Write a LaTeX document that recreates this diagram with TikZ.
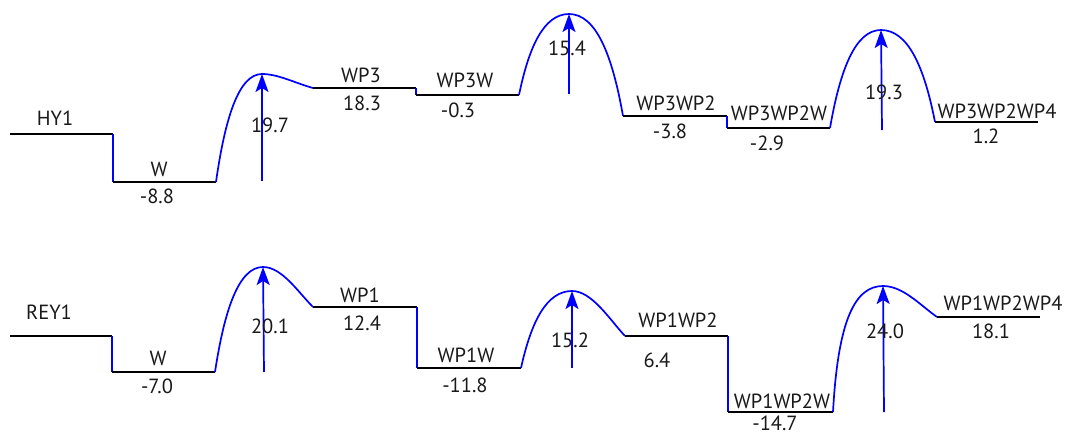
\documentclass[tikz,border=0pt]{standalone}
\usepackage{fontspec}
\setmainfont{PT Sans}
\usetikzlibrary{arrows.meta}
\definecolor{pathblue}{RGB}{0,0,255}
\tikzset{
  level/.style={draw=black, line width=1.7pt},
  link/.style={draw=pathblue, line width=1.7pt},
  barrier/.style={draw=pathblue, line width=1.7pt, -{Stealth[length=18pt,width=13pt,inset=4pt]}},
  lbl/.style={anchor=base, inner sep=0pt, font=\fontsize{20.5}{22}\selectfont, text=black!90}
}
\begin{document}
\begin{tikzpicture}[x=1pt,y=-1pt]
\useasboundingbox (0,0) rectangle (1067,434);

% ---------------- upper pathway (HY1) ----------------
\coordinate (hyA) at (10,134);   \coordinate (hyB) at (113,134);
\coordinate (wA)  at (113,182);  \coordinate (wB)  at (216,182);
\coordinate (ts1) at (262,74);   \coordinate (ts1b) at (262,181);
\coordinate (p3A) at (313,88);   \coordinate (p3B) at (416,88);
\coordinate (p3wA) at (416,95);  \coordinate (p3wB) at (519,95);
\coordinate (ts2) at (569,14);   \coordinate (ts2b) at (569,94);
\coordinate (p32A) at (623,116); \coordinate (p32B) at (727,116);
\coordinate (p32wA) at (727,128);\coordinate (p32wB) at (830,128);
\coordinate (ts3) at (881,30);   \coordinate (ts3b) at (882,130);
\coordinate (p324A) at (935,122);\coordinate (p324B) at (1038,122);

\draw[level] (hyA) -- (hyB);
\draw[link] (hyB) -- (wA);
\draw[level] (wA) -- (wB);
\draw[link] (wB) .. controls (225.2,117.2) and (239,74) .. (ts1)
                 .. controls (278,74) and (295,83) .. (p3A);
\draw[level] (p3A) -- (p3B);
\draw[link] (p3B) -- (p3wA);
\draw[level] (p3wA) -- (p3wB);
\draw[link] (p3wB) .. controls (529,46.4) and (544,14) .. (ts2)
                   .. controls (596,14) and (612.2,54.8) .. (p32A);
\draw[level] (p32A) -- (p32B);
\draw[link] (p32B) -- (p32wA);
\draw[level] (p32wA) -- (p32wB);
\draw[link] (p32wB) .. controls (840.2,69.2) and (855.5,30) .. (ts3)
                    .. controls (908,30) and (924.2,66.8) .. (p324A);
\draw[level] (p324A) -- (p324B);

\draw[barrier] (ts1b) -- (ts1);
\draw[barrier] (ts2b) -- (ts2);
\draw[barrier] (ts3b) -- (ts3);

\node[lbl] (nHY1)  at (55,125)  {HY1};
\node[lbl] (nW1)   at (159,176) {W};
\node[lbl] (eW1)   at (157,203) {-8.8};
\node[lbl] (eTS1)  at (270,132) {19.7};
\node[lbl] (nWP3)  at (361,82)  {WP3};
\node[lbl] (eWP3)  at (362,110) {18.3};
\node[lbl] (nWP3W) at (465,87)  {WP3W};
\node[lbl] (eWP3W) at (458,117) {-0.3};
\node[lbl] (eTS2)  at (567,55)  {15.4};
\node[lbl] (nWP32) at (676,110) {WP3WP2};
\node[lbl] (eWP32) at (670,138) {-3.8};
\node[lbl] (nWP32W) at (779,120) {WP3WP2W};
\node[lbl] (eWP32W) at (767,150) {-2.9};
\node[lbl] (eTS3)  at (884,99)  {19.3};
\node[lbl] (nWP324) at (997,118) {WP3WP2WP4};
\node[lbl] (eWP324) at (986,143) {1.2};

% ---------------- lower pathway (REY1) ----------------
\coordinate (reA) at (10,336);   \coordinate (reB) at (112,336);
\coordinate (w2A) at (112,372);  \coordinate (w2B) at (215,372);
\coordinate (ts4) at (263,267);  \coordinate (ts4b) at (264,372);
\coordinate (p1A) at (313,307);  \coordinate (p1B) at (417,307);
\coordinate (p1wA) at (417,368); \coordinate (p1wB) at (521,368);
\coordinate (ts5) at (572,291);  \coordinate (ts5b) at (572,368);
\coordinate (p12A) at (625,336); \coordinate (p12B) at (728,336);
\coordinate (p12wA) at (728,412);\coordinate (p12wB) at (833,412);
\coordinate (ts6) at (883,286);  \coordinate (ts6b) at (884,412);
\coordinate (p124A) at (937,317);\coordinate (p124B) at (1040,317);

\draw[level] (reA) -- (reB);
\draw[link] (reB) -- (w2A);
\draw[level] (w2A) -- (w2B);
\draw[link] (w2B) .. controls (224.6,309) and (239,267) .. (ts4)
                  .. controls (282,267) and (298,292) .. (p1A);
\draw[level] (p1A) -- (p1B);
\draw[link] (p1B) -- (p1wA);
\draw[level] (p1wA) -- (p1wB);
\draw[link] (p1wB) .. controls (531.2,321.8) and (546.5,291) .. (ts5)
                   .. controls (592,291) and (610,320) .. (p12A);
\draw[level] (p12A) -- (p12B);
\draw[link] (p12B) -- (p12wA);
\draw[level] (p12wA) -- (p12wB);
\draw[link] (p12wB) .. controls (838,320) and (855,286) .. (ts6)
                    .. controls (903,286) and (920,305) .. (p124A);
\draw[level] (p124A) -- (p124B);

\draw[barrier] (ts4b) -- (ts4);
\draw[barrier] (ts5b) -- (ts5);
\draw[barrier] (ts6b) -- (ts6);

\node[lbl] (nREY1) at (49,319)  {REY1};
\node[lbl] (nW2)   at (158,365) {W};
\node[lbl] (eW2)   at (157,393) {-7.0};
\node[lbl] (eTS4)  at (270,333) {20.1};
\node[lbl] (nWP1)  at (360,302) {WP1};
\node[lbl] (eWP1)  at (362,330) {12.4};
\node[lbl] (nWP1W) at (466,362) {WP1W};
\node[lbl] (eWP1W) at (465,392) {-11.8};
\node[lbl] (eTS5)  at (570,347) {15.2};
\node[lbl] (nWP12) at (678,327) {WP1WP2};
\node[lbl] (eWP12) at (657,367) {6.4};
\node[lbl] (nWP12W) at (782,408) {WP1WP2W};
\node[lbl] (eWP12W) at (775,430) {-14.7};
\node[lbl] (eTS6)  at (885,338) {24.0};
\node[lbl] (nWP124) at (1003,310) {WP1WP2WP4};
\node[lbl] (eWP124) at (991,338) {18.1};
\end{tikzpicture}
\end{document}
